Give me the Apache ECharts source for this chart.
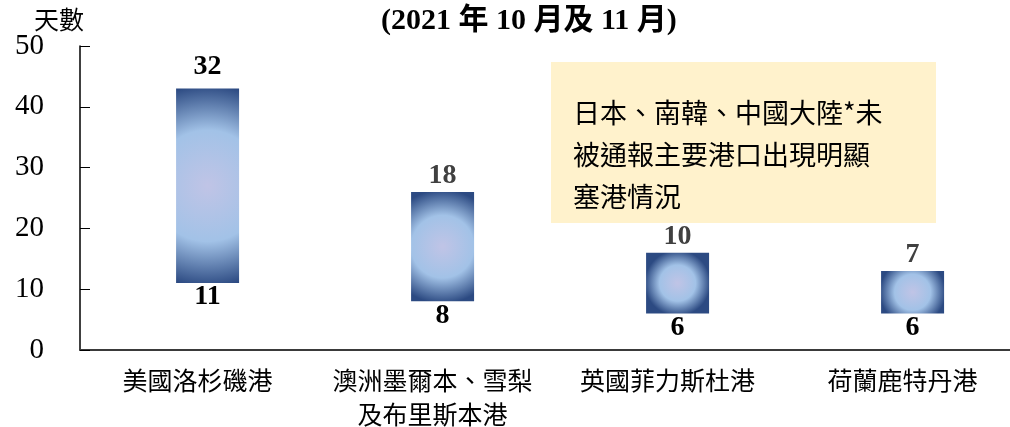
<!DOCTYPE html>
<html>
<head>
<meta charset="utf-8">
<script src="https://cdn.jsdelivr.net/npm/echarts@6/dist/echarts.min.js"></script>
<style>
  html, body { margin: 0; padding: 0; background: #fff; }
  #chart { width: 1010px; height: 427px; }
</style>
</head>
<body>
<div id="chart"></div>
<script>
var ports = ['美國洛杉磯港', '澳洲墨爾本、雪梨\n及布里斯本港', '英國菲力斯杜港', '荷蘭鹿特丹港'];
var startDay = [11, 8, 6, 6];   // bottom of each floating bar
var spanDays = [32, 18, 10, 7]; // length of each bar
var yTicks = { min: 0, max: 50, interval: 10 };

var serif = "'Liberation Serif', 'Times New Roman', 'Noto Sans CJK TC', serif";
var cjk = "'Noto Sans CJK TC', 'Noto Sans CJK SC', sans-serif";

var barFill = function (i) {
  // radial fade stretched to the longer side of the bar
  var h = spanDays[i] * 6.08, w = 63;
  return {
    type: 'radial', x: 0.5, y: 0.5, r: 0.52 * Math.max(h, w) / Math.min(h, w),
    colorStops: [
      { offset: 0, color: '#c0c4e6' },
      { offset: 0.55, color: '#a2c2e7' },
      { offset: 1, color: '#2c4a82' }
    ]
  };
};

var myChart = echarts.init(document.getElementById('chart'));
var option = {
  animation: false,
  title: {
    text: '(2021 年 10 月及 11 月)',
    left: 376, top: 1,
    textStyle: { fontFamily: serif, fontWeight: 'bold', fontSize: 30, color: '#000' }
  },
  grid: { left: 80, top: 46, bottom: 77, width: 940, outerBoundsMode: 'none' },
  xAxis: {
    type: 'category',
    data: ports,
    axisLine: { lineStyle: { color: '#3a3a3a', width: 2 } },
    axisTick: { inside: true, length: 10, lineStyle: { color: '#000' } },
    axisLabel: { interval: 0, margin: 13, fontFamily: cjk, fontSize: 25, color: '#000', lineHeight: 34 }
  },
  yAxis: {
    type: 'value',
    min: yTicks.min, max: yTicks.max, interval: yTicks.interval,
    name: '天數',
    nameGap: 5,
    nameTextStyle: { fontFamily: cjk, fontSize: 25, color: '#000', align: 'right', padding: [0, -4, 0, 0] },
    axisLine: { show: true, lineStyle: { color: '#000', width: 1.5 } },
    axisTick: { show: true, inside: true, length: 10, lineStyle: { color: '#000' } },
    splitLine: { show: false },
    axisLabel: { margin: 36, fontFamily: serif, fontSize: 29, color: '#000' }
  },
  series: [
    {
      // empty slot, only used to nudge the real bars a little to the right
      name: 'pad', type: 'bar', stack: 'pad',
      data: ports.map(function () { return '-'; }),
      barWidth: 63, barGap: '-68%'
    },
    {
      name: 'start', type: 'bar', stack: 'days',
      data: startDay,
      barWidth: 63, barGap: '-68%',
      itemStyle: { color: 'rgba(0,0,0,0)' },
      label: {
        show: true, position: 'insideTop', distance: 0,
        fontFamily: serif, fontWeight: 'bold', fontSize: 28, color: '#000'
      }
    },
    {
      name: 'span', type: 'bar', stack: 'days',
      barWidth: 63, barGap: '-68%',
      data: spanDays.map(function (v, i) {
        return {
          value: v,
          itemStyle: { color: barFill(i) },
          label: { color: i === 0 ? '#000' : '#404040', distance: i === 0 ? 8 : 2 }
        };
      }),
      label: {
        show: true, position: 'top',
        fontFamily: serif, fontWeight: 'bold', fontSize: 28
      }
    }
  ],
  graphic: [
    {
      type: 'group', left: 551, top: 62,
      children: [
        { type: 'rect', shape: { x: 0, y: 0, width: 385, height: 161 }, style: { fill: '#fff2cc' } },
        {
          type: 'text', x: 22, y: 30,
          style: {
            text: '日本、南韓、中國大陸*未\n被通報主要港口出現明顯\n塞港情況',
            font: '27px ' + cjk, fill: '#000', lineHeight: 42
          }
        }
      ]
    }
  ]
};
myChart.setOption(option);
</script>
</body>
</html>
